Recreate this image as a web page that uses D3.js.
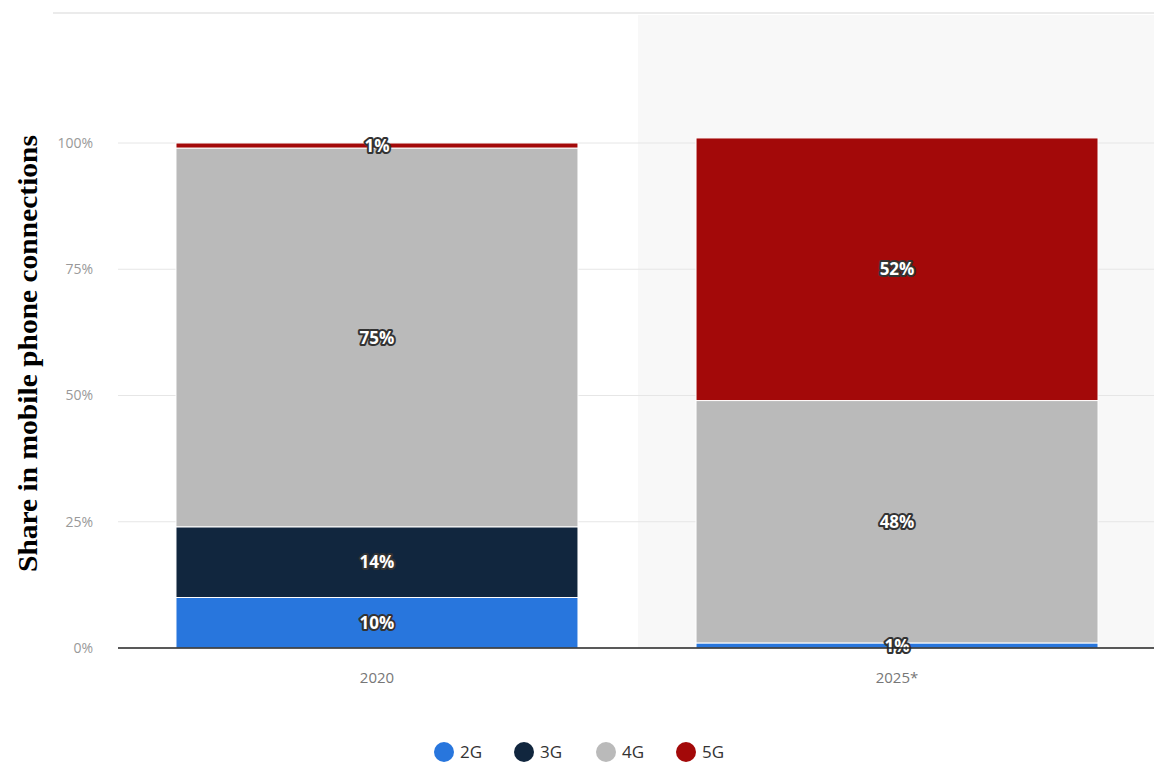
<!DOCTYPE html>
<html>
<head>
<meta charset="UTF-8" />
<title>Share in mobile phone connections</title>
<script src="https://d3js.org/d3.v7.min.js"></script>
<style>
  body { margin: 0; background: #fff; }
  svg text { font-family: "Open Sans", sans-serif; }
</style>
</head>
<body>
<svg id="chart" width="1154" height="767"></svg>
<script>
const years = ['2020', '2025*'];
const generations = ['2G', '3G', '4G', '5G'];
const share2G = [10, 1];
const share3G = [14, 0];
const share4G = [75, 48];
const share5G = [1, 52];
const yTicks = [0, 25, 50, 75, 100];
const colors = ['#2876dd', '#11263e', '#bababa', '#a30909'];

const rows = years.map((yr, i) => ({
  year: yr, '2G': share2G[i], '3G': share3G[i], '4G': share4G[i], '5G': share5G[i]
}));

const svg = d3.select('#chart');
const W = 1154;
const plotLeft = 118, plotBottom = 648, plotTop = 143;

const x = d3.scaleBand().domain(years).range([plotLeft, 1156])
  .paddingInner(0.227).paddingOuter(0.1115);
const y = d3.scaleLinear().domain([0, 100]).range([plotBottom, plotTop]);
const color = d3.scaleOrdinal().domain(generations).range(colors);

// top rule
svg.append('line').attr('x1', 53).attr('x2', W).attr('y1', 13).attr('y2', 13)
  .attr('stroke', '#e4e4e4').attr('stroke-width', 1.5);

// shaded forecast area
svg.append('rect')
  .attr('x', plotLeft + x.step()).attr('y', 15)
  .attr('width', W - plotLeft - x.step()).attr('height', plotBottom - 15)
  .attr('fill', '#f8f8f8');

// grid + y labels
const grid = svg.append('g');
grid.selectAll('line').data(yTicks.filter(d => d > 0)).join('line')
  .attr('x1', plotLeft).attr('x2', W)
  .attr('y1', d => y(d)).attr('y2', d => y(d))
  .attr('stroke', '#e6e6e6');
grid.selectAll('text').data(yTicks).join('text')
  .attr('x', 93).attr('y', d => y(d)).attr('dy', '0.35em')
  .attr('text-anchor', 'end').attr('fill', '#999').attr('font-size', 14)
  .text(d => d + '%');

// stacked bars
const stacked = d3.stack().keys(generations)(rows);
const layers = svg.append('g').selectAll('g').data(stacked).join('g')
  .attr('fill', d => color(d.key));
layers.selectAll('rect').data(d => d).join('rect')
  .attr('x', d => x(d.data.year))
  .attr('width', x.bandwidth())
  .attr('y', d => y(d[1]))
  .attr('height', d => y(d[0]) - y(d[1]))
  .attr('stroke', '#fff').attr('stroke-width', d => (d[1] - d[0]) > 0 ? 1 : 0);

// value labels
const labels = [];
stacked.forEach(s => s.forEach(d => {
  if (d[1] - d[0] > 0) labels.push({ x: x(d.data.year) + x.bandwidth() / 2, y: y((d[0] + d[1]) / 2), v: d[1] - d[0] });
}));
svg.append('g').selectAll('text').data(labels).join('text')
  .attr('x', d => d.x).attr('y', d => d.y).attr('dy', '0.36em')
  .attr('text-anchor', 'middle')
  .attr('font-size', 17).attr('font-weight', 'bold')
  .attr('fill', '#fff').attr('stroke', '#333').attr('stroke-width', 4)
  .attr('stroke-linejoin', 'round').attr('paint-order', 'stroke')
  .text(d => d.v + '%');

// x axis baseline
svg.append('line').attr('x1', plotLeft).attr('x2', W).attr('y1', plotBottom).attr('y2', plotBottom)
  .attr('stroke', '#222').attr('stroke-width', 1.5);
svg.append('g').selectAll('text').data(years).join('text')
  .attr('x', d => x(d) + x.bandwidth() / 2).attr('y', 678).attr('dy', '0.35em')
  .attr('text-anchor', 'middle').attr('fill', '#777').attr('font-size', 15)
  .text(d => d);

// y axis title
svg.append('text')
  .attr('transform', `translate(37, ${(135 + 572) / 2}) rotate(-90)`)
  .attr('text-anchor', 'middle')
  .style('font-family', '"Liberation Serif", serif')
  .attr('font-size', 28).attr('font-weight', 'bold').attr('fill', '#000')
  .attr('textLength', 437).attr('lengthAdjust', 'spacingAndGlyphs')
  .text('Share in mobile phone connections');

// legend
const legendX = [444, 524, 606, 686];
const legend = svg.append('g').selectAll('g').data(generations).join('g')
  .attr('transform', (d, i) => `translate(${legendX[i]}, 752)`);
legend.append('circle').attr('r', 10).attr('fill', d => color(d));
legend.append('text').attr('x', 16).attr('dy', '0.35em')
  .attr('font-size', 17).attr('fill', '#333').text(d => d);
</script>
</body>
</html>
